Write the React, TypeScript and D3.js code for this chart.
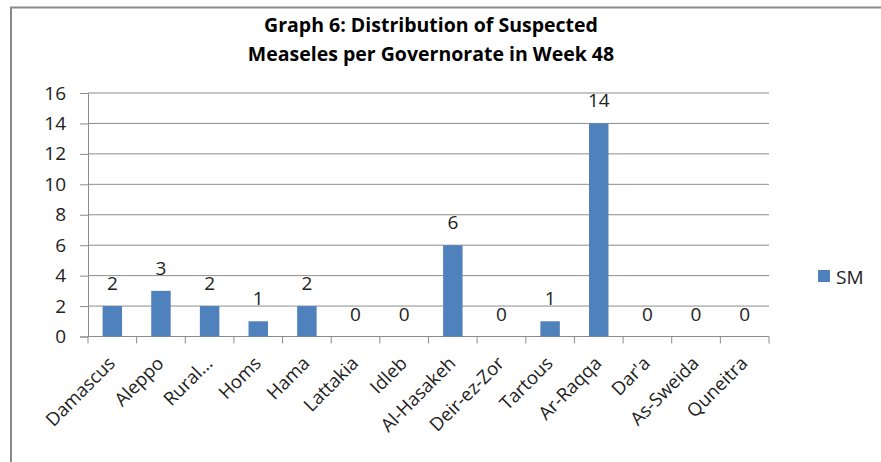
import * as d3 from "d3";
import * as React from "react";

const governorates = [
  "Damascus", "Aleppo", "Rural...", "Homs", "Hama", "Lattakia", "Idleb",
  "Al-Hasakeh", "Deir-ez-Zor", "Tartous", "Ar-Raqqa", "Dar'a", "As-Sweida", "Quneitra",
];
const smCases = [2, 3, 2, 1, 2, 0, 0, 6, 0, 1, 14, 0, 0, 0];
const yTicks = [0, 2, 4, 6, 8, 10, 12, 14, 16];
const titleLines = ["Graph 6: Distribution of Suspected", "Measeles per Governorate in Week 48"];
const seriesName = "SM";

const W = 881;
const H = 462;
const margin = { top: 93, left: 88, right: 112, bottom: 125.5 };
const font = "'Open Sans', sans-serif";
const barColor = "#4F81BD";
const gridColor = "#8c8c8c";

export default function App() {
  const ref = React.useRef<SVGSVGElement>(null);

  React.useEffect(() => {
    const svg = d3.select(ref.current!);
    svg.selectAll("*").remove();

    const x = d3.scaleBand()
      .domain(governorates)
      .range([margin.left, W - margin.right])
      .paddingInner(0.6)
      .paddingOuter(0.3);
    const band = d3.scaleBand().domain(governorates).range([margin.left, W - margin.right]);
    const y = d3.scaleLinear().domain([0, 16]).range([H - margin.bottom, margin.top]);

    // outer frame
    svg.append("rect")
      .attr("x", 11).attr("y", 7.5)
      .attr("width", W + 10).attr("height", H + 10)
      .attr("fill", "white").attr("stroke", "#8a8a8a").attr("stroke-width", 2);

    // title
    svg.append("g").selectAll("text")
      .data(titleLines)
      .join("text")
      .attr("x", 431)
      .attr("y", (_, i) => 32 + i * 29)
      .attr("text-anchor", "middle")
      .attr("font-family", font)
      .attr("font-weight", "bold")
      .attr("font-size", 19.5)
      .attr("fill", "#000")
      .text(d => d);

    // gridlines
    svg.append("g").selectAll("line")
      .data(yTicks.filter(t => t > 0))
      .join("line")
      .attr("x1", margin.left).attr("x2", W - margin.right)
      .attr("y1", d => y(d)).attr("y2", d => y(d))
      .attr("stroke", gridColor).attr("stroke-width", 1);

    // y axis
    svg.append("g")
      .attr("transform", `translate(${margin.left},0)`)
      .call(d3.axisLeft(y).tickValues(yTicks).tickSize(8).tickPadding(14).tickFormat(d3.format("d")))
      .call(g => g.selectAll("line, path").attr("stroke", gridColor))
      .call(g => g.selectAll("text")
        .attr("font-family", font).attr("font-size", 19).attr("fill", "#222"));

    // x axis
    const x0 = y(0);
    const xAxis = svg.append("g");
    xAxis.append("line")
      .attr("x1", margin.left).attr("x2", W - margin.right)
      .attr("y1", x0).attr("y2", x0)
      .attr("stroke", gridColor);
    xAxis.selectAll("line.tick")
      .data(d3.range(governorates.length + 1))
      .join("line")
      .attr("class", "tick")
      .attr("x1", i => margin.left + i * band.step())
      .attr("x2", i => margin.left + i * band.step())
      .attr("y1", x0).attr("y2", x0 + 7)
      .attr("stroke", gridColor);
    xAxis.selectAll("text")
      .data(governorates)
      .join("text")
      .attr("transform", d => `translate(${band(d)! + band.bandwidth() / 2 + 4},${x0 + 28}) rotate(-45)`)
      .attr("text-anchor", "end")
      .attr("font-family", font)
      .attr("font-size", 18.5)
      .attr("fill", "#222")
      .text(d => d);

    // bars
    svg.append("g").selectAll("rect")
      .data(governorates)
      .join("rect")
      .attr("x", d => x(d)!)
      .attr("width", x.bandwidth())
      .attr("y", (_, i) => y(smCases[i]))
      .attr("height", (_, i) => y(0) - y(smCases[i]))
      .attr("fill", barColor);

    // data labels
    svg.append("g").selectAll("text")
      .data(governorates)
      .join("text")
      .attr("x", d => x(d)! + x.bandwidth() / 2)
      .attr("y", (_, i) => y(smCases[i]) - 16)
      .attr("text-anchor", "middle")
      .attr("font-family", font)
      .attr("font-size", 19)
      .attr("fill", "#222")
      .text((_, i) => smCases[i]);

    // legend
    const legend = svg.append("g").attr("transform", "translate(818,270)");
    legend.append("rect").attr("width", 12).attr("height", 12).attr("fill", barColor);
    legend.append("text")
      .attr("x", 18).attr("y", 13.5)
      .attr("font-family", font).attr("font-size", 19).attr("fill", "#222")
      .text(seriesName);
  }, []);

  return (
    <svg ref={ref} width={W} height={H}
      style={{ position: "absolute", left: 0, top: 0, background: "white" }} />
  );
}
